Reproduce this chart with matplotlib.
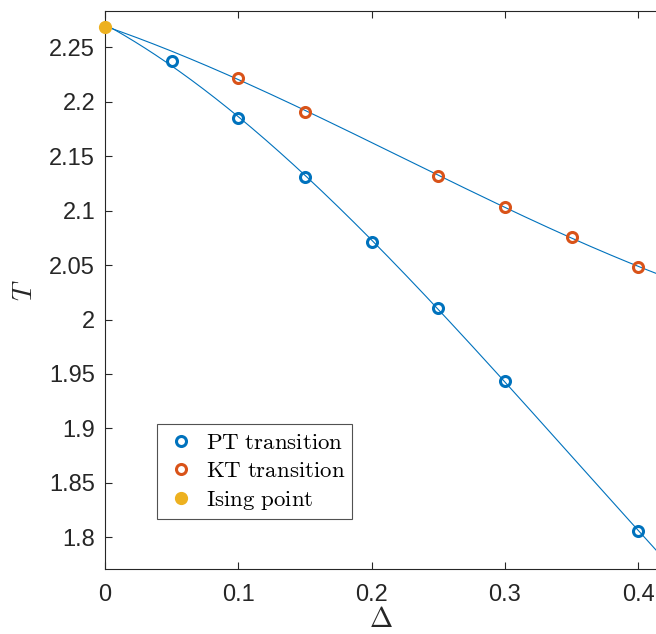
import numpy as np
import matplotlib
matplotlib.use("Agg")
import matplotlib.pyplot as plt

plt.rcParams['mathtext.fontset'] = 'cm'
plt.rcParams['font.family'] = ['Liberation Sans', 'DejaVu Sans']

# data
pt_delta = [0.05, 0.10, 0.15, 0.20, 0.25, 0.30, 0.40]
pt_T = [2.2375, 2.1852, 2.1312, 2.0712, 2.0108, 1.9435, 1.8058]
kt_delta = [0.10, 0.15, 0.25, 0.30, 0.35, 0.40]
kt_T = [2.2222, 2.1908, 2.1320, 2.1034, 2.0758, 2.0483]
ising_delta = [0.0]
ising_T = [2.2692]

xticks = [0, 0.1, 0.2, 0.3, 0.4]
xtick_labels = ['0', '0.1', '0.2', '0.3', '0.4']
yticks = [1.8, 1.85, 1.9, 1.95, 2.0, 2.05, 2.1, 2.15, 2.2, 2.25]
ytick_labels = ['1.8', '1.85', '1.9', '1.95', '2', '2.05', '2.1', '2.15', '2.2', '2.25']

blue = '#0072BD'
orange = '#D95319'
yellow = '#EDB120'

fig = plt.figure(figsize=(6.56, 6.34), dpi=100)
ax = fig.add_axes([0.160, 0.103, 0.840, 0.880])

# fitted curves through Ising point + transition points
xs = np.linspace(0, 0.45, 300)
cpt = np.polyfit(ising_delta + pt_delta, ising_T + pt_T, 3)
ckt = np.polyfit(ising_delta + kt_delta, ising_T + kt_T, 3)
ax.plot(xs, np.polyval(cpt, xs), color=blue, lw=0.8)
ax.plot(xs, np.polyval(ckt, xs), color=blue, lw=0.8)

ax.plot(pt_delta, pt_T, 'o', mfc='none', mec=blue, mew=2.2, ms=7.2,
        label=r'$\mathrm{PT\ transition}$')
ax.plot(kt_delta, kt_T, 'o', mfc='none', mec=orange, mew=2.2, ms=7.2,
        label=r'$\mathrm{KT\ transition}$')
ax.plot(ising_delta, ising_T, 'o', color=yellow, ms=8.5, clip_on=False, zorder=5,
        label=r'$\mathrm{Ising\ point}$')

ax.set_xlim(0, 0.4133)
ax.set_ylim(1.7711, 2.2837)
ax.set_xticks(xticks)
ax.set_xticklabels(xtick_labels)
ax.set_yticks(yticks)
ax.set_yticklabels(ytick_labels)

ax.spines['right'].set_visible(False)
for s in ['left', 'top', 'bottom']:
    ax.spines[s].set_color('#262626')
    ax.spines[s].set_linewidth(0.8)
ax.tick_params(direction='in', top=True, right=False, length=5, width=0.8,
               colors='#262626', labelsize=17)
ax.tick_params(axis='x', pad=11)
ax.tick_params(axis='y', pad=7)

ax.set_xlabel(r'$\Delta$', fontsize=20, color='#262626', labelpad=1)
ax.set_ylabel(r'$T$', fontsize=20, color='#262626', labelpad=8)

leg = ax.legend(loc='lower left', bbox_to_anchor=(0.094, 0.089), borderaxespad=0,
                fontsize=16.5, frameon=True, fancybox=False, handletextpad=0.35,
                handlelength=1.5, borderpad=0.3, labelspacing=0.25)
leg.get_frame().set_edgecolor('#262626')
leg.get_frame().set_linewidth(0.8)

fig.savefig('out.png', dpi=100)
